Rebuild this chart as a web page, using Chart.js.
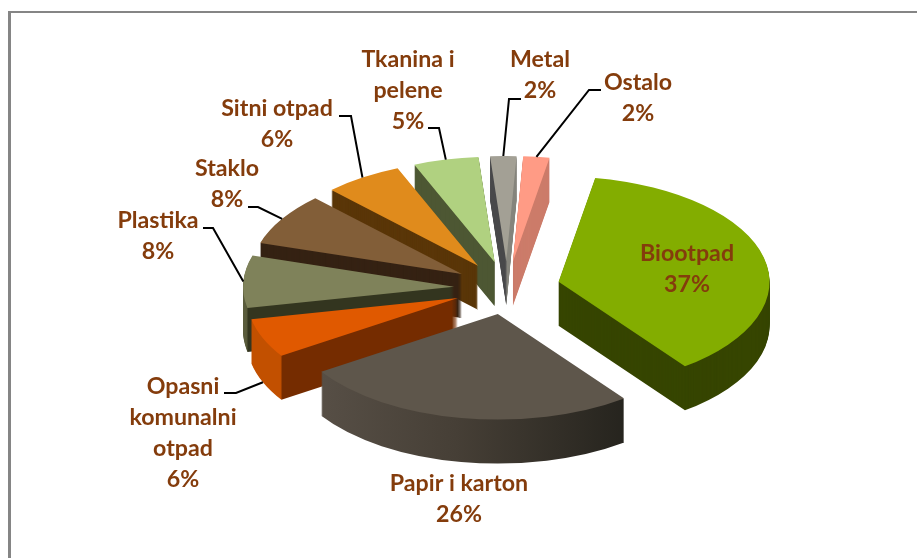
<!DOCTYPE html>
<html>
<head>
<meta charset="utf-8">
<script src="https://cdn.jsdelivr.net/npm/chart.js@4"></script>
<style>
  html, body { margin: 0; background: #fff; overflow: hidden; }
  #wrap { position: relative; width: 917px; height: 558px; }
  #frame { position: absolute; left: 8px; top: 11px; right: 0; bottom: 0; border-left: 3px solid #858585; border-top: 2px solid #858585; }
  canvas { position: absolute; left: 0; top: 0; }
</style>
</head>
<body>
<div id="wrap">
  <div id="frame"></div>
  <canvas id="pie" width="917" height="558"></canvas>
</div>
<script>
const categories = ['Biootpad', 'Papir i karton', 'Opasni komunalni otpad', 'Plastika', 'Staklo', 'Sitni otpad', 'Tkanina i pelene', 'Metal', 'Ostalo'];
const values = [37, 26, 6, 8, 8, 6, 5, 2, 2];

// label wrapping, same order as categories
const labelLines = [['Biootpad'], ['Papir i karton'], ['Opasni', 'komunalni', 'otpad'], ['Plastika'], ['Staklo'], ['Sitni otpad'], ['Tkanina i', 'pelene'], ['Metal'], ['Ostalo']];

const topColors = ['#83ad00', '#5e564b', '#e05900', '#7f825a', '#825e38', '#e08b1c', '#b0d180', '#a3a095', '#ff9b85'];
const wallLeft = ['#364500', '#574f46', '#c25000', '#5a5c3c', '#352213', '#5a3608', '#4d5733', '#48484a', '#cc7c6a'];
const wallRight = ['#364500', '#26241e', '#752c00', '#33351f', '#352213', '#5a3608', '#4d5733', '#85847c', '#cc7c6a'];

// layout of the fake 3d look
const yScale = 0.5;
const depth = 44;
const radius = 211;
const explode = 53;

// label centre x, first line middle y, and the elbow of the leader line
const labelPos = [
  { x: 687, y: 254 },
  { x: 459, y: 484 },
  { x: 183, y: 387, leader: [[224, 393], [236, 393]] },
  { x: 158, y: 221, leader: [[203, 228], [213, 228]] },
  { x: 227, y: 169, leader: [[248, 207], [258, 207]] },
  { x: 277, y: 109, leader: [[339, 116], [351, 116]] },
  { x: 408, y: 60, leader: [[428, 128], [439, 128]] },
  { x: 540, y: 60, leader: [[521, 99], [509, 99]] },
  { x: 638, y: 83, leader: [[601, 90], [589, 90]] }
];

const lineHeight = 31;
const labelFont = 'bold 23.2px Lato, "Open Sans", sans-serif';
const labelColor = '#843c0c';

function midOf(arc) {
  return (arc.startAngle + arc.endAngle) / 2;
}

// gradient coordinates are read in the slice's own space, where arc.x is the tip
function wallFill(ctx, arc, i) {
  if (wallLeft[i] === wallRight[i]) return wallLeft[i];
  if (i === 1) {
    // Papir i karton has the soft shaded wall
    const soft = ctx.createLinearGradient(arc.x - radius * 0.85, 0, arc.x + radius * 0.6, 0);
    soft.addColorStop(0, wallLeft[i]);
    soft.addColorStop(0.45, '#463f36');
    soft.addColorStop(1, wallRight[i]);
    return soft;
  }
  // two visible faces: split at the outer corner for left slices, at the tip for the back one
  const splitX = arc.x + (i === 2 || i === 3 ? Math.cos(arc.startAngle) * radius : 0);
  const hard = ctx.createLinearGradient(splitX - 1, 0, splitX + 1, 0);
  hard.addColorStop(0, wallLeft[i]);
  hard.addColorStop(1, wallRight[i]);
  return hard;
}

function drawArc(ctx, arc, color) {
  const saved = arc.options;
  arc.options = Object.assign({}, saved, { backgroundColor: color, borderWidth: 0 });
  arc.draw(ctx);
  arc.options = saved;
}

const pie3d = {
  id: 'pie3d',
  beforeDatasetsDraw(chart) {
    const ctx = chart.ctx;
    const arcs = chart.getDatasetMeta(0).data;
    // far slices first so the near ones sit over them
    const order = arcs.map((a, i) => i).sort((a, b) => Math.sin(midOf(arcs[a])) - Math.sin(midOf(arcs[b])));

    order.forEach(i => {
      const arc = arcs[i];
      const mid = midOf(arc);
      const dx = Math.cos(mid) * explode;
      const dy = Math.sin(mid) * explode * yScale;
      const wall = wallFill(ctx, arc, i);
      for (let d = depth; d >= 0; d--) {
        ctx.save();
        ctx.translate(arc.x + dx, arc.y + dy + d);
        ctx.scale(1, yScale);
        ctx.translate(-arc.x, -arc.y);
        drawArc(ctx, arc, d === 0 ? topColors[i] : wall);
        ctx.restore();
      }
    });
    return false;
  },
  afterDraw(chart) {
    const ctx = chart.ctx;
    const arcs = chart.getDatasetMeta(0).data;

    // leader lines end on the rim of their slice
    ctx.save();
    ctx.strokeStyle = '#000';
    ctx.lineWidth = 2;
    labelPos.forEach((pos, i) => {
      if (!pos.leader) return;
      const mid = midOf(arcs[i]);
      const ex = arcs[i].x + Math.cos(mid) * (radius + explode);
      let ey = arcs[i].y + Math.sin(mid) * (radius + explode) * yScale;
      if (Math.sin(mid) > 0) ey += depth;
      ctx.beginPath();
      ctx.moveTo(pos.leader[0][0], pos.leader[0][1]);
      ctx.lineTo(pos.leader[1][0], pos.leader[1][1]);
      ctx.lineTo(ex, ey);
      ctx.stroke();
    });
    ctx.restore();

    ctx.save();
    ctx.font = labelFont;
    ctx.fillStyle = labelColor;
    ctx.textAlign = 'center';
    ctx.textBaseline = 'middle';
    labelPos.forEach((pos, i) => {
      const lines = labelLines[i].concat(values[i] + '%');
      lines.forEach((line, n) => ctx.fillText(line, pos.x, pos.y + n * lineHeight));
    });
    ctx.restore();
  }
};

new Chart(document.getElementById('pie'), {
  type: 'pie',
  data: {
    labels: categories,
    datasets: [{
      data: values,
      backgroundColor: topColors,
      borderWidth: 0,
      radius: radius
    }]
  },
  options: {
    responsive: false,
    animation: false,
    rotation: 10,
    layout: { padding: { left: 97, top: 18 } },
    plugins: { legend: { display: false }, tooltip: { enabled: false } }
  },
  plugins: [pie3d]
});
</script>
</body>
</html>
